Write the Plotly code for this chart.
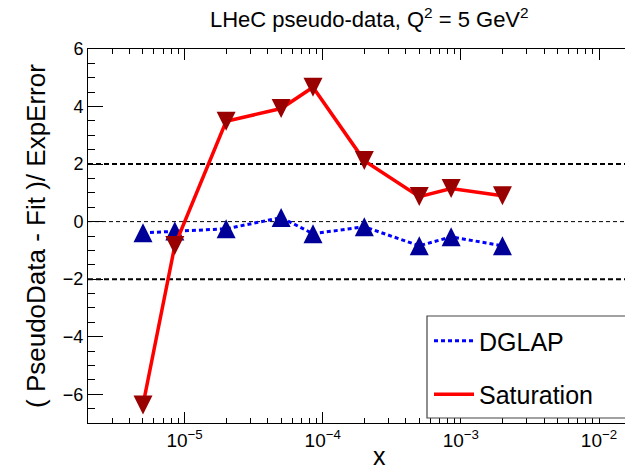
import numpy as np
import plotly.graph_objects as go

# Bjorken-x bins of the LHeC pseudo-data at Q^2 = 5 GeV^2
x_bins = [5e-6, 8.5e-6, 2e-5, 5e-5, 8.5e-5, 2e-4, 5e-4, 8.5e-4, 2e-3]

# (PseudoData - Fit) / ExpError for each fit
dglap_pull = [-0.39, -0.33, -0.25, 0.14, -0.42, -0.18, -0.84, -0.53, -0.84]
saturation_pull = [-6.37, -0.83, 3.49, 3.93, 4.67, 2.12, 0.87, 1.15, 0.90]

# horizontal reference levels
band_levels = [2, -2]
zero_level = 0

y_major_ticks = [-6, -4, -2, 0, 2, 4, 6]
x_major_ticks = [1e-5, 1e-4, 1e-3, 1e-2]
x_major_labels = ["10<sup>\u22125</sup>", "10<sup>\u22124</sup>",
                  "10<sup>\u22123</sup>", "10<sup>\u22122</sup>"]

FONT = "Liberation Sans, Arial, Helvetica, sans-serif"
W, H = 625, 470
ML, MR, MT, MB = 88, 0, 49, 47
PW, PH = W - ML - MR, H - MT - MB

X_RANGE = [np.log10(2e-6), -1.812]
Y_RANGE = [-7, 6]

x_minor = [m * 10.0 ** e for e in range(-6, -1) for m in range(2, 10)]
y_minor = list(np.arange(-7, 6.01, 0.5))


def px_to_paper_x(px):
    return (px - ML) / PW


def px_to_paper_y(py):
    return (H - MB - py) / PH


MSIZE = 19

fig = go.Figure()

# DGLAP: dotted blue line, navy up-triangles
fig.add_trace(go.Scatter(
    x=x_bins, y=dglap_pull, mode="lines", name="DGLAP",
    line=dict(color="#0000ff", width=3, dash="4px,3px"),
    legendgroup="dglap",
))
fig.add_trace(go.Scatter(
    x=x_bins, y=dglap_pull, mode="markers", showlegend=False,
    marker=dict(symbol="arrow-down", angle=180, standoff=MSIZE / 2,
                size=MSIZE, color="#000099", line=dict(width=0)),
    legendgroup="dglap",
))

# Saturation: solid red line, dark red down-triangles
fig.add_trace(go.Scatter(
    x=x_bins, y=saturation_pull, mode="lines", name="Saturation",
    line=dict(color="#ff0000", width=3.5),
    legendgroup="sat",
))
fig.add_trace(go.Scatter(
    x=x_bins, y=saturation_pull, mode="markers", showlegend=False,
    marker=dict(symbol="arrow-down", angle=0, standoff=MSIZE / 2,
                size=MSIZE, color="#990000", line=dict(width=0)),
    legendgroup="sat",
))

shapes = []
for lvl in band_levels:
    shapes.append(dict(type="line", xref="paper", x0=0, x1=1, yref="y",
                       y0=lvl, y1=lvl, layer="below",
                       line=dict(color="black", width=2, dash="5px,3px")))
shapes.append(dict(type="line", xref="paper", x0=0, x1=1, yref="y",
                   y0=zero_level, y1=zero_level, layer="below",
                   line=dict(color="black", width=1, dash="4px,3px")))

# legend frame
shapes.append(dict(type="rect", xref="paper", yref="paper",
                   x0=px_to_paper_x(427), x1=px_to_paper_x(660),
                   y0=px_to_paper_y(418), y1=px_to_paper_y(316),
                   layer="above", fillcolor="white",
                   line=dict(color="#444444", width=1.2)))

annotations = [
    dict(text="LHeC pseudo-data, Q<sup>2</sup> = 5 GeV<sup>2</sup>",
         xref="paper", yref="paper", x=px_to_paper_x(369), y=px_to_paper_y(18),
         xanchor="center", yanchor="middle", showarrow=False,
         font=dict(family=FONT, size=22, color="black")),
    dict(text="( PseudoData - Fit )/ ExpError",
         xref="paper", yref="paper", x=px_to_paper_x(36), y=px_to_paper_y(236),
         xanchor="center", yanchor="middle", showarrow=False, textangle=-90,
         font=dict(family=FONT, size=26, color="black")),
    dict(text="x",
         xref="paper", yref="paper", x=px_to_paper_x(379), y=px_to_paper_y(456),
         xanchor="center", yanchor="middle", showarrow=False,
         font=dict(family=FONT, size=25, color="black")),
]

fig.update_layout(
    width=W, height=H,
    margin=dict(l=ML, r=MR, t=MT, b=MB, pad=0),
    paper_bgcolor="white", plot_bgcolor="white",
    font=dict(family=FONT, color="black"),
    showlegend=True,
    legend=dict(
        x=px_to_paper_x(429), y=px_to_paper_y(318),
        xanchor="left", yanchor="top",
        bgcolor="rgba(0,0,0,0)", borderwidth=0,
        font=dict(family=FONT, size=25, color="black"),
        traceorder="grouped", tracegroupgap=18, itemwidth=40,
    ),
    shapes=shapes,
    annotations=annotations,
)

fig.update_xaxes(
    type="log", range=X_RANGE,
    tickmode="array", tickvals=x_major_ticks, ticktext=x_major_labels,
    ticks="inside", ticklen=11, tickwidth=1, tickcolor="black",
    showline=True, linecolor="black", linewidth=1, mirror="ticks",
    showgrid=False, zeroline=False,
    tickfont=dict(family=FONT, size=19, color="black"),
    minor=dict(tickmode="array", tickvals=x_minor, ticks="inside",
               ticklen=5, tickwidth=1, tickcolor="black", showgrid=False),
)

fig.update_yaxes(
    range=Y_RANGE,
    tickmode="array", tickvals=y_major_ticks,
    ticks="inside", ticklen=15, tickwidth=1, tickcolor="black",
    showline=True, linecolor="black", linewidth=1, mirror=False,
    showgrid=False, zeroline=False,
    tickfont=dict(family=FONT, size=18, color="black"),
    minor=dict(tickmode="array", tickvals=y_minor, ticks="inside",
               ticklen=7, tickwidth=1, tickcolor="black", showgrid=False),
)

fig.write_html("out.html")
